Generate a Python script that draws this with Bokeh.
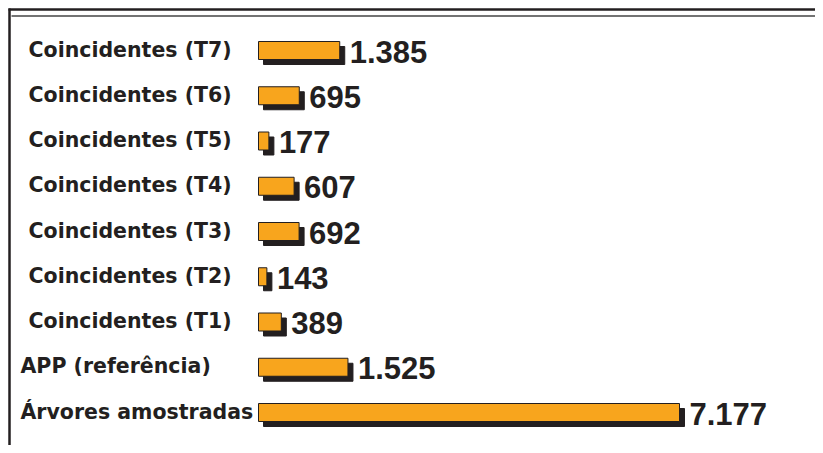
from bokeh.plotting import figure
from bokeh.models import ColumnDataSource, Range1d
from bokeh.transform import dodge
from bokeh.core.properties import value
from bokeh.embed import file_html
from bokeh.resources import INLINE

# ---- data (top to bottom, as in the picture) ----
categories = [
    "Coincidentes (T7)",
    "Coincidentes (T6)",
    "Coincidentes (T5)",
    "Coincidentes (T4)",
    "Coincidentes (T3)",
    "Coincidentes (T2)",
    "Coincidentes (T1)",
    "APP (referência)",
    "Árvores amostradas",
]
counts = [1385, 695, 177, 607, 692, 143, 389, 1525, 7177]

# ---- layout (pixels) ----
FIG_W, FIG_H = 815, 445
PPU = 421 / 7177          # pixels per unit on x
BAR_LEFT_PX = 258         # where bars start
ROW_PX = 45.25            # row spacing
FIRST_ROW_PX = 33         # bottom row centre, px from bottom
BAR_H_PX = 18
SH_X, SH_Y = 5, 5         # shadow offset px
label_left_px = [20, 20, 28, 28, 28, 28, 28, 28, 28]  # bottom-to-top

x_start = -BAR_LEFT_PX / PPU
x_end = x_start + FIG_W / PPU
y_start = -FIRST_ROW_PX / ROW_PX
y_end = y_start + FIG_H / ROW_PX

def px_x(px):
    return x_start + px / PPU

def px_y(py_from_top):
    return y_end - py_from_top / ROW_PX

n = len(categories)
cats_b = list(reversed(categories))
vals_b = list(reversed(counts))
src = ColumnDataSource(dict(
    y=list(range(n)),
    cat=cats_b,
    value=vals_b,
    label=[f"{v:,}".replace(",", ".") for v in vals_b],
    lx=[px_x(p) for p in label_left_px],
))

DARK = "#231f20"
ORANGE = "#f8a51d"

p = figure(width=FIG_W, height=FIG_H, output_backend="svg", toolbar_location=None,
           x_range=Range1d(x_start, x_end), y_range=Range1d(y_start, y_end),
           min_border=0, outline_line_color=None, background_fill_color="white")
p.axis.visible = False
p.grid.visible = False

# frame lines (decoration)
p.segment(x0=[px_x(8)], y0=[px_y(9)], x1=[px_x(FIG_W + 5)], y1=[px_y(9)],
          line_color=DARK, line_width=2.5)
p.segment(x0=[px_x(11)], y0=[px_y(15.5)], x1=[px_x(FIG_W + 5)], y1=[px_y(15.5)],
          line_color="#444444", line_width=1.3)
p.segment(x0=[px_x(9)], y0=[px_y(8)], x1=[px_x(9)], y1=[px_y(FIG_H + 5)],
          line_color=DARK, line_width=2.5)

bh = BAR_H_PX / ROW_PX
# shadows
p.hbar(y=dodge("y", -SH_Y / ROW_PX), left=SH_X / PPU, right=dodge("value", SH_X / PPU),
       height=bh, source=src, fill_color=DARK, line_color=DARK)
# bars
p.hbar(y="y", left=0, right="value", height=bh, source=src,
       fill_color=ORANGE, line_color=DARK, line_width=1)

# value labels
p.text(x="value", y="y", text="label", source=src, x_offset=10, y_offset=1,
       text_align="left", text_baseline="middle",
       text_font=value("Liberation Sans"), text_font_style="bold",
       text_font_size="31px", text_color=DARK)

# category labels
p.text(x="lx", y="y", text="cat", source=src, y_offset=-1,
       text_align="left", text_baseline="middle",
       text_font=value("DejaVu Sans"), text_font_style="bold",
       text_font_size="20.5px", text_color=DARK)

open("out.html", "w").write(file_html(p, INLINE))
